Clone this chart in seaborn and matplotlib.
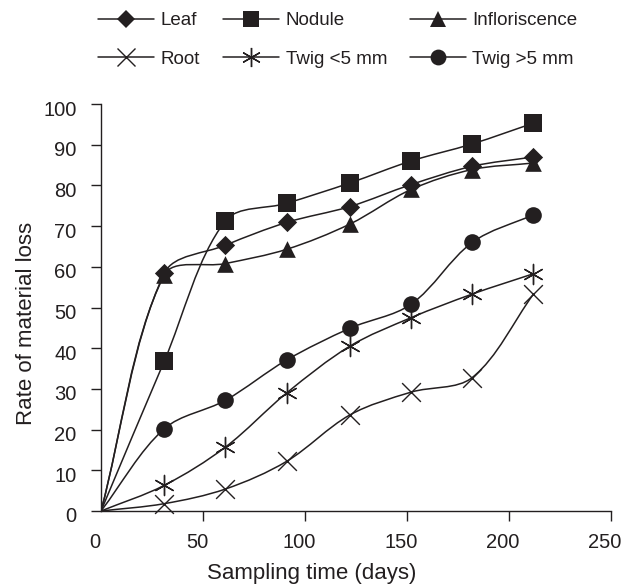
import numpy as np
import pandas as pd
import matplotlib
matplotlib.use("Agg")
import matplotlib.pyplot as plt
import matplotlib.transforms as mtransforms
from matplotlib.path import Path
from matplotlib.patches import PathPatch
from matplotlib.lines import Line2D
import seaborn as sns

# ---- data ----
days = [0, 31, 61, 91, 122, 152, 182, 212]
leaf = [0, 58.4, 65.3, 70.9, 74.8, 80.2, 84.7, 87.0]
nodule = [0, 36.8, 71.3, 75.6, 80.6, 86.0, 90.2, 95.3]
infloriscence = [0, 58.0, 60.8, 64.3, 70.5, 79.0, 83.9, 85.5]
root = [0, 1.8, 5.4, 12.2, 23.6, 29.2, 32.8, 53.3]
twig_small = [0, 6.3, 15.7, 29.0, 40.5, 47.5, 53.3, 58.3]
twig_large = [0, 20.2, 27.2, 37.1, 44.9, 50.8, 66.0, 72.8]

series_names = ["Leaf", "Nodule", "Infloriscence", "Root", "Twig <5 mm", "Twig >5 mm"]
series_values = [leaf, nodule, infloriscence, root, twig_small, twig_large]

x_ticks = [0, 50, 100, 150, 200, 250]
y_ticks = [0, 10, 20, 30, 40, 50, 60, 70, 80, 90, 100]

# ---- styles ----
C = "#231f20"
styles = {
    "Leaf": dict(marker="D", ms=9.8, filled=True),
    "Nodule": dict(marker="s", ms=12.5, filled=True),
    "Infloriscence": dict(marker="^", ms=12.0, filled=True),
    "Root": dict(marker="x", ms=13.5, filled=False),
    "Twig <5 mm": dict(marker=(6, 2, 0), ms=14.5, filled=False),
    "Twig >5 mm": dict(marker="o", ms=12.0, filled=True),
}

sns.set_theme(style="ticks")
plt.rcParams["font.family"] = ["Liberation Sans", "DejaVu Sans"]

fig = plt.figure(figsize=(6.26, 5.88), dpi=100)
ax = fig.add_axes([101 / 626, 77 / 588, 510 / 626, 407 / 588])
ax.set_xlim(0, 250)
ax.set_ylim(0, 100)

# pixel scale (for chord lengths of the smoothing, as Excel does on screen)
SX = 510 / 250.0
SY = 407 / 100.0


def smooth_path(xs, ys, tension=1 / 3.0):
    """Excel-like smoothed line: chord-weighted Catmull-Rom cubic Bezier."""
    pts = np.column_stack([xs, ys]).astype(float)
    n = len(pts)
    scale = np.array([SX, SY])

    def seglen(i):
        if i < 0 or i >= n - 1:
            return 0.0
        return float(np.hypot(*((pts[i + 1] - pts[i]) * scale)))

    def tangent(i):
        a = pts[max(i - 1, 0)]
        b = pts[min(i + 1, n - 1)]
        return b - a

    verts = [pts[0]]
    codes = [Path.MOVETO]
    for i in range(n - 1):
        L0, L1, L2 = seglen(i - 1), seglen(i), seglen(i + 1)
        w1 = L1 / (L0 + L1) if (L0 + L1) > 0 else 0.5
        w2 = L1 / (L1 + L2) if (L1 + L2) > 0 else 0.5
        if i == 0:
            c1 = pts[0] + (pts[1] - pts[0]) * tension
        else:
            c1 = pts[i] + tangent(i) * tension * w1
        if i + 1 == n - 1:
            c2 = pts[i + 1] - (pts[i + 1] - pts[i]) * tension
        else:
            c2 = pts[i + 1] - tangent(i + 1) * tension * w2
        verts += [c1, c2, pts[i + 1]]
        codes += [Path.CURVE4] * 3
    return Path(verts, codes)


for name, vals in zip(series_names, series_values):
    ax.add_patch(PathPatch(smooth_path(days, vals), facecolor="none",
                           edgecolor=C, lw=1.1, zorder=2))
    st = styles[name]
    df = pd.DataFrame({"day": days[1:], "val": vals[1:]})
    if st["filled"]:
        sns.scatterplot(data=df, x="day", y="val", marker=st["marker"],
                        s=st["ms"] ** 2, color=C, edgecolor=C, linewidth=0,
                        ax=ax, zorder=3, legend=False, clip_on=False)
    else:
        sns.scatterplot(data=df, x="day", y="val", marker=st["marker"],
                        s=st["ms"] ** 2, color=C, linewidth=1.0,
                        ax=ax, zorder=3, legend=False, clip_on=False)

ax.set_xlim(0, 250)
ax.set_ylim(0, 100)
ax.set_xticks(x_ticks)
ax.set_yticks(y_ticks)
ax.set_xticklabels([str(v) for v in x_ticks])
ax.set_yticklabels([str(v) for v in y_ticks])

for s in ["top", "right"]:
    ax.spines[s].set_visible(False)
for s in ["left", "bottom"]:
    ax.spines[s].set_color(C)
    ax.spines[s].set_linewidth(1.0)

ax.tick_params(axis="both", direction="out", length=7.5, width=1.0, colors=C,
               labelsize=14.5, labelcolor=C)
ax.tick_params(axis="y", pad=10)
ax.tick_params(axis="x", pad=8)
# no x tick mark at the origin
ax.xaxis.get_major_ticks()[0].tick1line.set_visible(False)

off_y = mtransforms.ScaledTranslation(0, -4 / 100, fig.dpi_scale_trans)
for lab in ax.get_yticklabels():
    lab.set_transform(lab.get_transform() + off_y)
off_x = mtransforms.ScaledTranslation(-6 / 100, 0, fig.dpi_scale_trans)
for lab in ax.get_xticklabels():
    lab.set_transform(lab.get_transform() + off_x)

ax.set_xlabel("Sampling time (days)", fontsize=16, color=C)
ax.set_ylabel("Rate of material loss", fontsize=16, color=C)
ax.xaxis.set_label_coords(0.414, -0.128)
ax.yaxis.set_label_coords(-0.125, 0.46)

# legend (column-wise order so rows read Leaf/Nodule/Infloriscence, Root/Twig...)
handles = {}
for name in series_names:
    st = styles[name]
    handles[name] = Line2D([], [], color=C, lw=1.1, marker=st["marker"],
                           markersize=st["ms"] * 0.95,
                           markerfacecolor=C, markeredgecolor=C,
                           markeredgewidth=(0 if st["filled"] else 1.0))
order = ["Leaf", "Root", "Nodule", "Twig <5 mm", "Infloriscence", "Twig >5 mm"]
fig.legend([handles[n] for n in order], order, loc="upper left",
           bbox_to_anchor=(98 / 626, 1 - 12 / 588), ncol=3, frameon=False,
           fontsize=13.5, handlelength=3.0, handletextpad=0.35,
           columnspacing=1.2, labelspacing=1.15, borderpad=0, borderaxespad=0,
           labelcolor=C)

fig.savefig("out.png", dpi=100)
